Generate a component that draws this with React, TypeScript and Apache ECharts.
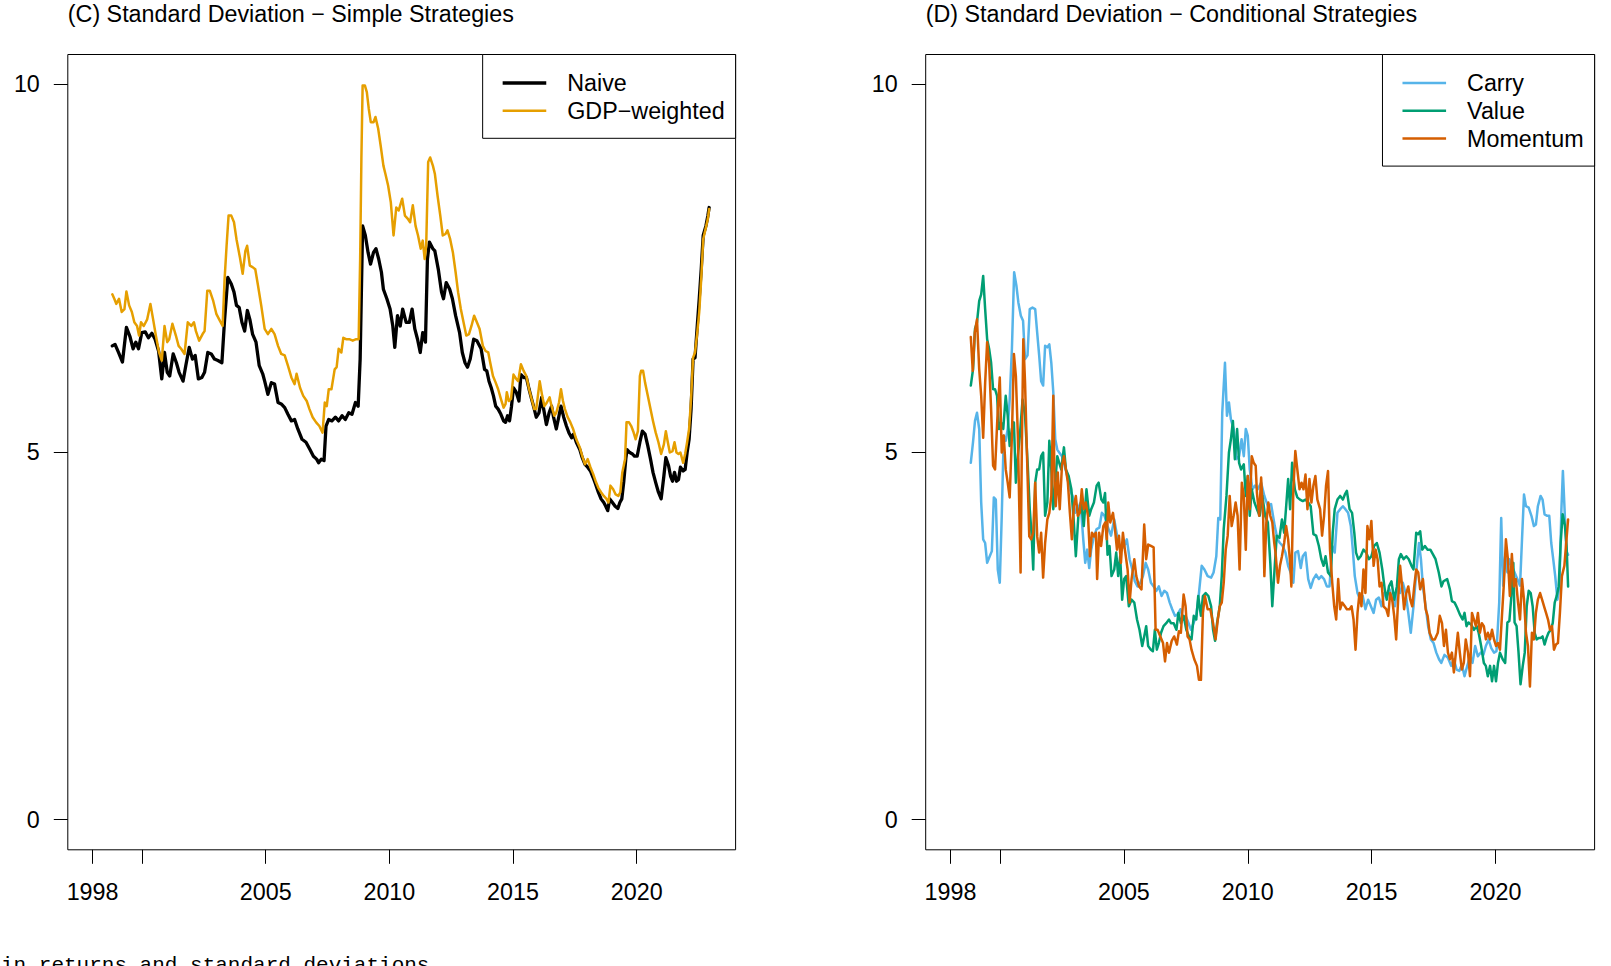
import React, { useEffect, useRef } from "react";
import * as echarts from "echarts";

const FONT = "'Liberation Sans', Arial, Helvetica, sans-serif";
const FS = 23.3;

// ---- axes ----
const xTickValues = [1998, 2000, 2005, 2010, 2015, 2020];
const xLabelValues = [1998, 2005, 2010, 2015, 2020];
const yTickValues = [0, 5, 10];

const titles = [
  "(C) Standard Deviation \u2212 Simple Strategies",
  "(D) Standard Deviation \u2212 Conditional Strategies",
];
const leftNames = ["Naive", "GDP\u2212weighted"];
const rightNames = ["Carry", "Value", "Momentum"];
const caption = "in returns and standard deviations";

// ---- series: [year, standard deviation] ----
const naive: [number, number][] = [
  [1998.80, 6.44], [1998.91, 6.46], [1999.05, 6.35], [1999.21, 6.22], [1999.37, 6.69], [1999.51, 6.57],
  [1999.64, 6.40], [1999.75, 6.49], [1999.86, 6.40], [1999.99, 6.62], [2000.13, 6.63], [2000.26, 6.55],
  [2000.40, 6.61], [2000.53, 6.53], [2000.67, 6.37], [2000.80, 5.99], [2000.91, 6.35], [2001.02, 6.08],
  [2001.12, 6.03], [2001.26, 6.33], [2001.39, 6.21], [2001.50, 6.08], [2001.66, 5.96], [2001.77, 6.17],
  [2001.91, 6.42], [2002.04, 6.26], [2002.15, 6.31], [2002.28, 5.99], [2002.42, 6.01], [2002.53, 6.08],
  [2002.66, 6.35], [2002.80, 6.33], [2002.93, 6.26], [2003.07, 6.24], [2003.23, 6.21], [2003.34, 6.80],
  [2003.47, 7.37], [2003.61, 7.28], [2003.72, 7.17], [2003.82, 6.99], [2003.93, 6.96], [2004.04, 6.76],
  [2004.15, 6.64], [2004.26, 6.92], [2004.36, 6.80], [2004.47, 6.60], [2004.61, 6.49], [2004.74, 6.17],
  [2004.88, 6.06], [2004.96, 5.96], [2005.09, 5.78], [2005.23, 5.94], [2005.36, 5.92], [2005.50, 5.67],
  [2005.63, 5.65], [2005.77, 5.60], [2005.90, 5.51], [2006.04, 5.42], [2006.17, 5.44], [2006.30, 5.31],
  [2006.47, 5.17], [2006.63, 5.13], [2006.79, 5.03], [2006.93, 4.94], [2007.06, 4.90], [2007.14, 4.85],
  [2007.25, 4.90], [2007.36, 4.88], [2007.44, 5.35], [2007.55, 5.44], [2007.68, 5.42], [2007.82, 5.47],
  [2007.95, 5.42], [2008.09, 5.49], [2008.22, 5.44], [2008.36, 5.53], [2008.49, 5.51], [2008.63, 5.67],
  [2008.74, 5.62], [2008.82, 6.26], [2008.87, 7.17], [2008.92, 8.07], [2009.03, 7.94], [2009.14, 7.71],
  [2009.24, 7.55], [2009.36, 7.71], [2009.46, 7.76], [2009.57, 7.62], [2009.68, 7.44], [2009.76, 7.21],
  [2009.90, 7.08], [2010.03, 6.94], [2010.14, 6.71], [2010.22, 6.42], [2010.33, 6.85], [2010.44, 6.71],
  [2010.54, 6.94], [2010.68, 6.76], [2010.81, 6.76], [2010.92, 6.94], [2011.03, 6.67], [2011.14, 6.53],
  [2011.25, 6.35], [2011.35, 6.62], [2011.46, 6.49], [2011.54, 7.62], [2011.62, 7.85], [2011.76, 7.76],
  [2011.84, 7.73], [2011.98, 7.48], [2012.11, 7.17], [2012.19, 7.08], [2012.30, 7.30], [2012.44, 7.21],
  [2012.55, 7.08], [2012.68, 6.85], [2012.84, 6.62], [2012.95, 6.35], [2013.06, 6.21], [2013.16, 6.15],
  [2013.27, 6.26], [2013.41, 6.53], [2013.54, 6.51], [2013.71, 6.40], [2013.85, 6.12], [2013.94, 6.10],
  [2014.03, 5.96], [2014.12, 5.87], [2014.21, 5.76], [2014.30, 5.62], [2014.40, 5.58], [2014.51, 5.51],
  [2014.62, 5.42], [2014.70, 5.40], [2014.78, 5.49], [2014.86, 5.42], [2014.94, 5.62], [2015.02, 5.87],
  [2015.13, 5.81], [2015.24, 5.69], [2015.32, 6.05], [2015.43, 6.01], [2015.54, 6.01], [2015.65, 5.85],
  [2015.75, 5.72], [2015.86, 5.58], [2015.94, 5.47], [2016.05, 5.53], [2016.16, 5.74], [2016.24, 5.58],
  [2016.35, 5.37], [2016.46, 5.53], [2016.56, 5.62], [2016.64, 5.47], [2016.75, 5.31], [2016.86, 5.49],
  [2016.94, 5.62], [2017.05, 5.47], [2017.16, 5.35], [2017.26, 5.26], [2017.37, 5.19], [2017.45, 5.24],
  [2017.56, 5.13], [2017.70, 5.03], [2017.80, 4.92], [2017.91, 4.83], [2018.02, 4.79], [2018.13, 4.74],
  [2018.24, 4.65], [2018.34, 4.56], [2018.45, 4.45], [2018.56, 4.36], [2018.67, 4.31], [2018.75, 4.26],
  [2018.83, 4.20], [2018.91, 4.36], [2019.02, 4.31], [2019.13, 4.26], [2019.24, 4.23], [2019.32, 4.31],
  [2019.40, 4.36], [2019.48, 4.60], [2019.56, 4.90], [2019.61, 5.03], [2019.72, 4.99], [2019.83, 4.97],
  [2019.91, 4.94], [2020.02, 4.94], [2020.13, 5.13], [2020.23, 5.28], [2020.34, 5.24], [2020.45, 5.08],
  [2020.56, 4.90], [2020.66, 4.72], [2020.77, 4.58], [2020.88, 4.45], [2020.99, 4.36], [2021.10, 4.67],
  [2021.18, 4.92], [2021.29, 4.81], [2021.37, 4.67], [2021.45, 4.60], [2021.53, 4.72], [2021.61, 4.60],
  [2021.69, 4.62], [2021.77, 4.79], [2021.88, 4.74], [2021.96, 4.76], [2022.04, 4.99], [2022.12, 5.17],
  [2022.20, 5.58], [2022.28, 6.26], [2022.36, 6.28], [2022.45, 6.71], [2022.53, 7.08], [2022.61, 7.48],
  [2022.69, 7.94], [2022.80, 8.07], [2022.88, 8.21], [2022.93, 8.32],
];

const gdpWeighted: [number, number][] = [
  [1998.80, 7.14], [1998.88, 7.08], [1998.96, 7.01], [1999.07, 7.08], [1999.18, 6.90], [1999.29, 6.94],
  [1999.37, 7.18], [1999.48, 6.99], [1999.59, 6.90], [1999.69, 6.76], [1999.80, 6.71], [1999.88, 6.58],
  [1999.96, 6.76], [2000.07, 6.71], [2000.21, 6.80], [2000.34, 7.01], [2000.45, 6.80], [2000.56, 6.58],
  [2000.69, 6.35], [2000.80, 6.24], [2000.91, 6.71], [2001.02, 6.49], [2001.10, 6.53], [2001.23, 6.74],
  [2001.37, 6.58], [2001.48, 6.44], [2001.58, 6.40], [2001.72, 6.33], [2001.85, 6.76], [2001.99, 6.71],
  [2002.10, 6.76], [2002.18, 6.64], [2002.31, 6.51], [2002.45, 6.60], [2002.53, 6.64], [2002.64, 7.19],
  [2002.74, 7.19], [2002.88, 7.05], [2003.01, 6.87], [2003.12, 6.80], [2003.26, 6.71], [2003.34, 7.35],
  [2003.42, 7.80], [2003.50, 8.21], [2003.61, 8.21], [2003.72, 8.12], [2003.82, 7.89], [2003.96, 7.64],
  [2004.07, 7.42], [2004.18, 7.73], [2004.25, 7.80], [2004.36, 7.53], [2004.47, 7.51], [2004.58, 7.48],
  [2004.69, 7.26], [2004.82, 6.99], [2004.96, 6.67], [2005.09, 6.60], [2005.23, 6.67], [2005.36, 6.60],
  [2005.50, 6.44], [2005.63, 6.33], [2005.77, 6.31], [2005.90, 6.17], [2006.04, 6.01], [2006.17, 5.92],
  [2006.25, 6.06], [2006.39, 5.87], [2006.52, 5.76], [2006.66, 5.69], [2006.77, 5.58], [2006.90, 5.47],
  [2007.04, 5.40], [2007.17, 5.35], [2007.30, 5.26], [2007.39, 5.67], [2007.47, 5.62], [2007.55, 5.85],
  [2007.66, 5.85], [2007.79, 6.12], [2007.87, 6.15], [2007.95, 6.40], [2008.06, 6.35], [2008.14, 6.55],
  [2008.25, 6.53], [2008.38, 6.53], [2008.52, 6.51], [2008.66, 6.53], [2008.76, 6.53], [2008.82, 7.62],
  [2008.87, 8.98], [2008.92, 9.98], [2009.01, 9.98], [2009.09, 9.89], [2009.17, 9.66], [2009.25, 9.48],
  [2009.36, 9.48], [2009.44, 9.55], [2009.55, 9.39], [2009.65, 9.16], [2009.76, 8.89], [2009.84, 8.78],
  [2009.95, 8.62], [2010.06, 8.39], [2010.17, 7.94], [2010.28, 8.32], [2010.38, 8.28], [2010.52, 8.44],
  [2010.63, 8.21], [2010.74, 8.17], [2010.84, 8.12], [2010.95, 8.35], [2011.06, 8.07], [2011.16, 7.94],
  [2011.27, 7.76], [2011.35, 7.87], [2011.43, 7.62], [2011.49, 7.80], [2011.57, 8.94], [2011.65, 9.00],
  [2011.76, 8.89], [2011.84, 8.78], [2011.95, 8.48], [2012.06, 8.21], [2012.16, 7.94], [2012.27, 7.96],
  [2012.35, 8.01], [2012.46, 7.89], [2012.57, 7.71], [2012.68, 7.44], [2012.78, 7.17], [2012.89, 6.94],
  [2013.00, 6.76], [2013.11, 6.58], [2013.22, 6.60], [2013.32, 6.71], [2013.43, 6.85], [2013.54, 6.76],
  [2013.65, 6.67], [2013.78, 6.44], [2013.89, 6.37], [2014.00, 6.35], [2014.08, 6.21], [2014.19, 6.03],
  [2014.30, 5.94], [2014.40, 5.85], [2014.51, 5.72], [2014.62, 5.60], [2014.70, 5.65], [2014.75, 5.81],
  [2014.83, 5.69], [2014.92, 5.72], [2015.02, 6.05], [2015.13, 5.99], [2015.21, 5.96], [2015.32, 6.19],
  [2015.43, 6.10], [2015.54, 6.03], [2015.65, 5.85], [2015.75, 5.72], [2015.86, 5.58], [2015.94, 5.58],
  [2016.08, 5.96], [2016.18, 5.76], [2016.27, 5.62], [2016.37, 5.67], [2016.48, 5.74], [2016.56, 5.62],
  [2016.67, 5.49], [2016.75, 5.53], [2016.86, 5.67], [2016.94, 5.85], [2017.02, 5.69], [2017.10, 5.58],
  [2017.21, 5.47], [2017.32, 5.40], [2017.43, 5.31], [2017.56, 5.17], [2017.70, 5.06], [2017.80, 4.94],
  [2017.91, 4.83], [2018.02, 4.90], [2018.13, 4.79], [2018.24, 4.70], [2018.34, 4.60], [2018.45, 4.51],
  [2018.56, 4.45], [2018.67, 4.40], [2018.78, 4.36], [2018.86, 4.31], [2018.94, 4.54], [2019.05, 4.49],
  [2019.15, 4.42], [2019.26, 4.40], [2019.34, 4.45], [2019.42, 4.72], [2019.53, 4.90], [2019.59, 5.40],
  [2019.69, 5.40], [2019.78, 5.35], [2019.86, 5.28], [2019.96, 5.17], [2020.05, 5.28], [2020.13, 6.03],
  [2020.18, 6.10], [2020.26, 6.10], [2020.34, 5.94], [2020.45, 5.76], [2020.56, 5.58], [2020.66, 5.42],
  [2020.77, 5.26], [2020.88, 5.13], [2020.99, 4.97], [2021.10, 5.10], [2021.18, 5.28], [2021.26, 5.13],
  [2021.34, 4.99], [2021.45, 5.01], [2021.53, 5.13], [2021.61, 4.99], [2021.69, 4.97], [2021.77, 4.99],
  [2021.88, 4.85], [2021.96, 4.97], [2022.04, 5.13], [2022.12, 5.31], [2022.20, 5.72], [2022.28, 6.28],
  [2022.36, 6.35], [2022.45, 6.62], [2022.53, 6.90], [2022.61, 7.35], [2022.69, 7.89], [2022.80, 8.05],
  [2022.88, 8.17], [2022.93, 8.30],
];

const carry: [number, number][] = [
  [1998.82, 4.85], [1998.91, 5.13], [1998.99, 5.42], [1999.07, 5.53], [1999.16, 5.31], [1999.24, 4.31],
  [1999.32, 3.81], [1999.40, 3.76], [1999.48, 3.49], [1999.56, 3.56], [1999.67, 3.65], [1999.75, 4.38],
  [1999.83, 4.35], [1999.91, 3.40], [1999.99, 3.22], [2000.07, 4.13], [2000.15, 5.22], [2000.23, 5.15],
  [2000.31, 5.31], [2000.39, 5.71], [2000.48, 6.40], [2000.57, 7.44], [2000.66, 7.26], [2000.74, 7.03],
  [2000.84, 6.85], [2000.93, 6.78], [2001.01, 6.26], [2001.11, 6.31], [2001.20, 6.94], [2001.31, 6.96],
  [2001.42, 6.94], [2001.50, 6.62], [2001.58, 6.31], [2001.66, 5.96], [2001.74, 5.90], [2001.82, 6.44],
  [2001.91, 6.42], [2001.99, 6.46], [2002.07, 6.21], [2002.15, 5.81], [2002.23, 5.17], [2002.31, 5.03],
  [2002.39, 4.99], [2002.50, 4.94], [2002.61, 4.81], [2002.71, 4.67], [2002.82, 4.49], [2002.93, 4.40],
  [2003.04, 4.17], [2003.14, 4.22], [2003.25, 4.31], [2003.36, 3.81], [2003.44, 3.49], [2003.52, 3.67],
  [2003.60, 3.42], [2003.68, 3.67], [2003.79, 3.85], [2003.90, 3.95], [2004.01, 3.97], [2004.11, 4.17],
  [2004.22, 4.13], [2004.34, 3.99], [2004.48, 3.86], [2004.61, 4.08], [2004.75, 3.81], [2004.88, 3.67],
  [2005.01, 3.72], [2005.12, 3.81], [2005.23, 3.54], [2005.34, 3.40], [2005.44, 3.24], [2005.55, 3.17],
  [2005.66, 3.22], [2005.77, 3.31], [2005.88, 3.49], [2005.98, 3.40], [2006.09, 3.22], [2006.20, 3.17],
  [2006.31, 3.11], [2006.41, 3.17], [2006.52, 3.04], [2006.63, 3.11], [2006.74, 3.08], [2006.85, 2.95],
  [2006.95, 2.86], [2007.06, 2.77], [2007.17, 2.79], [2007.28, 2.86], [2007.38, 2.72], [2007.49, 2.77],
  [2007.60, 2.68], [2007.71, 2.58], [2007.82, 2.68], [2007.92, 2.77], [2008.03, 3.08], [2008.14, 3.45],
  [2008.25, 3.40], [2008.38, 3.31], [2008.52, 3.29], [2008.62, 3.36], [2008.73, 3.58], [2008.81, 4.10],
  [2008.89, 4.08], [2008.97, 5.53], [2009.08, 6.21], [2009.16, 5.49], [2009.24, 5.67], [2009.32, 5.44],
  [2009.43, 5.31], [2009.54, 4.90], [2009.65, 4.94], [2009.75, 5.17], [2009.84, 4.94], [2009.92, 5.31],
  [2010.00, 5.22], [2010.08, 4.76], [2010.19, 4.49], [2010.29, 4.54], [2010.40, 4.49], [2010.54, 4.58],
  [2010.67, 4.40], [2010.81, 4.26], [2010.94, 4.29], [2011.09, 3.99], [2011.20, 3.81], [2011.30, 3.76],
  [2011.41, 3.72], [2011.52, 3.63], [2011.63, 3.45], [2011.73, 3.36], [2011.84, 3.22], [2011.92, 3.63],
  [2012.03, 3.65], [2012.14, 3.42], [2012.22, 3.58], [2012.33, 3.63], [2012.44, 3.27], [2012.54, 3.15],
  [2012.65, 3.27], [2012.76, 3.33], [2012.87, 3.27], [2012.97, 3.31], [2013.08, 3.27], [2013.19, 3.17],
  [2013.30, 3.17], [2013.41, 3.72], [2013.51, 3.63], [2013.62, 4.17], [2013.73, 4.22], [2013.84, 4.26],
  [2013.94, 4.22], [2014.05, 4.17], [2014.16, 3.99], [2014.24, 3.67], [2014.32, 3.31], [2014.43, 3.08],
  [2014.54, 2.99], [2014.64, 3.04], [2014.75, 2.86], [2014.86, 2.99], [2014.97, 2.90], [2015.08, 2.81],
  [2015.18, 2.99], [2015.29, 3.02], [2015.40, 2.90], [2015.51, 3.08], [2015.61, 3.04], [2015.72, 3.13],
  [2015.83, 2.99], [2015.94, 2.90], [2016.04, 3.17], [2016.15, 3.08], [2016.26, 3.22], [2016.37, 3.08],
  [2016.48, 2.81], [2016.58, 2.54], [2016.69, 2.90], [2016.80, 3.36], [2016.91, 3.76], [2016.99, 3.54],
  [2017.07, 3.17], [2017.18, 2.90], [2017.28, 2.63], [2017.39, 2.45], [2017.50, 2.40], [2017.61, 2.27],
  [2017.72, 2.18], [2017.81, 2.13], [2017.94, 2.24], [2018.08, 2.20], [2018.21, 2.09], [2018.32, 2.18],
  [2018.43, 2.04], [2018.54, 2.02], [2018.64, 2.11], [2018.75, 1.95], [2018.86, 2.09], [2018.97, 2.22],
  [2019.07, 2.13], [2019.18, 2.36], [2019.29, 2.22], [2019.40, 2.27], [2019.51, 2.24], [2019.61, 2.36],
  [2019.72, 2.45], [2019.83, 2.33], [2019.94, 2.27], [2020.04, 2.29], [2020.15, 2.95], [2020.23, 4.10],
  [2020.31, 3.18], [2020.39, 3.58], [2020.48, 3.36], [2020.56, 3.54], [2020.66, 3.45], [2020.77, 3.36],
  [2020.88, 3.27], [2020.99, 3.18], [2021.07, 3.81], [2021.15, 4.42], [2021.23, 4.26], [2021.34, 4.24],
  [2021.45, 4.13], [2021.55, 3.99], [2021.63, 4.01], [2021.71, 4.26], [2021.82, 4.40], [2021.90, 4.35],
  [2021.98, 4.15], [2022.09, 4.13], [2022.17, 4.13], [2022.25, 3.76], [2022.33, 3.54], [2022.41, 3.31],
  [2022.50, 2.99], [2022.58, 3.17], [2022.66, 4.22], [2022.72, 4.74], [2022.79, 4.20], [2022.86, 3.65],
  [2022.93, 3.60],
];

const value: [number, number][] = [
  [1998.82, 5.90], [1998.91, 6.12], [1998.99, 6.67], [1999.07, 6.76], [1999.16, 7.05], [1999.24, 7.14],
  [1999.32, 7.39], [1999.40, 6.94], [1999.48, 6.53], [1999.56, 6.40], [1999.64, 6.21], [1999.72, 5.85],
  [1999.80, 5.85], [1999.88, 5.76], [1999.96, 5.31], [2000.04, 5.40], [2000.13, 5.31], [2000.23, 5.76],
  [2000.31, 5.49], [2000.39, 5.08], [2000.48, 5.31], [2000.56, 5.40], [2000.64, 4.58], [2000.72, 4.94],
  [2000.80, 5.22], [2000.91, 5.71], [2001.01, 5.49], [2001.12, 4.81], [2001.20, 4.22], [2001.28, 3.85],
  [2001.34, 3.40], [2001.42, 4.58], [2001.50, 4.76], [2001.58, 4.76], [2001.66, 4.94], [2001.74, 4.99],
  [2001.82, 4.13], [2001.91, 4.31], [2001.99, 5.15], [2002.07, 4.76], [2002.15, 4.22], [2002.23, 4.58],
  [2002.31, 4.94], [2002.39, 4.85], [2002.47, 4.76], [2002.58, 5.06], [2002.66, 4.76], [2002.77, 4.67],
  [2002.88, 4.49], [2002.98, 4.04], [2003.06, 3.58], [2003.17, 4.17], [2003.28, 4.31], [2003.38, 3.99],
  [2003.49, 4.49], [2003.60, 4.13], [2003.68, 4.22], [2003.79, 4.31], [2003.90, 4.54], [2003.98, 4.58],
  [2004.09, 4.35], [2004.17, 4.31], [2004.24, 4.44], [2004.34, 3.60], [2004.42, 3.72], [2004.50, 3.31],
  [2004.61, 3.40], [2004.69, 3.63], [2004.77, 3.31], [2004.85, 3.58], [2004.93, 2.99], [2005.01, 3.27],
  [2005.09, 3.31], [2005.20, 2.90], [2005.31, 2.99], [2005.42, 2.95], [2005.53, 2.72], [2005.63, 2.58],
  [2005.74, 2.36], [2005.82, 2.49], [2005.90, 2.63], [2005.98, 2.36], [2006.09, 2.31], [2006.17, 2.29],
  [2006.25, 2.58], [2006.33, 2.31], [2006.41, 2.40], [2006.50, 2.54], [2006.60, 2.63], [2006.71, 2.67],
  [2006.82, 2.72], [2006.90, 2.67], [2007.01, 2.67], [2007.12, 2.58], [2007.20, 2.81], [2007.30, 2.67],
  [2007.41, 2.77], [2007.52, 2.58], [2007.63, 2.49], [2007.73, 2.45], [2007.82, 2.77], [2007.92, 2.72],
  [2008.00, 3.04], [2008.11, 2.77], [2008.19, 3.04], [2008.30, 3.08], [2008.41, 3.04], [2008.52, 2.90],
  [2008.60, 2.58], [2008.68, 2.43], [2008.76, 2.67], [2008.87, 2.90], [2008.95, 3.31], [2009.03, 3.95],
  [2009.14, 4.40], [2009.24, 4.99], [2009.32, 5.17], [2009.40, 5.42], [2009.48, 4.90], [2009.57, 5.31],
  [2009.65, 4.85], [2009.73, 4.76], [2009.84, 4.83], [2009.92, 4.40], [2010.00, 4.67], [2010.08, 4.13],
  [2010.16, 4.49], [2010.27, 4.31], [2010.37, 4.22], [2010.48, 4.13], [2010.59, 4.40], [2010.70, 4.13],
  [2010.81, 4.04], [2010.91, 3.49], [2010.99, 2.90], [2011.09, 3.45], [2011.17, 3.86], [2011.28, 3.83],
  [2011.38, 4.08], [2011.47, 3.90], [2011.55, 4.26], [2011.63, 4.63], [2011.71, 4.22], [2011.79, 4.85],
  [2011.90, 4.49], [2012.00, 4.38], [2012.11, 4.35], [2012.22, 4.33], [2012.33, 4.35], [2012.44, 4.31],
  [2012.54, 4.26], [2012.65, 3.88], [2012.76, 3.86], [2012.87, 3.72], [2012.97, 3.54], [2013.06, 3.45],
  [2013.14, 3.58], [2013.24, 3.36], [2013.35, 3.31], [2013.43, 3.90], [2013.51, 4.22], [2013.62, 4.35],
  [2013.73, 4.40], [2013.84, 4.35], [2013.92, 4.42], [2014.00, 4.47], [2014.11, 4.22], [2014.21, 4.17],
  [2014.30, 3.90], [2014.37, 3.63], [2014.46, 3.54], [2014.56, 3.58], [2014.67, 3.67], [2014.78, 3.63],
  [2014.89, 3.54], [2014.99, 3.58], [2015.10, 3.72], [2015.21, 3.76], [2015.32, 3.63], [2015.43, 3.40],
  [2015.53, 3.13], [2015.61, 2.99], [2015.70, 3.17], [2015.80, 3.24], [2015.91, 2.99], [2016.02, 3.17],
  [2016.10, 3.54], [2016.18, 3.61], [2016.29, 3.54], [2016.40, 3.58], [2016.50, 3.54], [2016.61, 3.45],
  [2016.69, 3.40], [2016.80, 3.90], [2016.88, 3.88], [2016.96, 3.92], [2017.04, 3.67], [2017.15, 3.72],
  [2017.26, 3.67], [2017.37, 3.67], [2017.47, 3.61], [2017.58, 3.54], [2017.71, 3.36], [2017.82, 3.17],
  [2017.90, 3.24], [2018.05, 3.27], [2018.16, 3.13], [2018.24, 2.97], [2018.35, 2.95], [2018.45, 2.88],
  [2018.56, 2.79], [2018.67, 2.72], [2018.75, 2.81], [2018.83, 2.63], [2018.91, 2.68], [2019.02, 2.65],
  [2019.13, 2.58], [2019.24, 2.63], [2019.32, 2.54], [2019.42, 2.36], [2019.53, 2.13], [2019.61, 2.09],
  [2019.69, 1.95], [2019.78, 2.09], [2019.86, 1.88], [2019.94, 2.09], [2020.02, 1.88], [2020.10, 2.13],
  [2020.18, 2.27], [2020.29, 2.18], [2020.39, 2.13], [2020.48, 2.68], [2020.56, 2.70], [2020.64, 3.04],
  [2020.72, 3.49], [2020.77, 2.68], [2020.85, 2.63], [2020.93, 2.27], [2021.01, 1.84], [2021.10, 2.09],
  [2021.18, 2.27], [2021.26, 2.90], [2021.34, 3.11], [2021.42, 3.08], [2021.50, 2.90], [2021.58, 2.54],
  [2021.66, 2.45], [2021.74, 2.47], [2021.82, 2.47], [2021.90, 2.49], [2021.98, 2.38], [2022.06, 2.47],
  [2022.14, 2.54], [2022.23, 2.58], [2022.31, 2.67], [2022.39, 2.95], [2022.47, 3.04], [2022.55, 3.17],
  [2022.63, 3.76], [2022.71, 4.15], [2022.80, 4.00], [2022.87, 3.72], [2022.93, 3.17],
];

const momentum: [number, number][] = [
  [1998.82, 6.56], [1998.90, 6.10], [1998.98, 6.62], [1999.07, 6.80], [1999.16, 6.12], [1999.24, 5.76],
  [1999.32, 5.19], [1999.40, 5.94], [1999.48, 6.49], [1999.56, 6.21], [1999.64, 5.58], [1999.72, 4.81],
  [1999.80, 4.76], [1999.91, 5.58], [1999.99, 6.01], [2000.07, 4.99], [2000.15, 5.22], [2000.23, 4.76],
  [2000.31, 4.58], [2000.39, 4.38], [2000.48, 5.22], [2000.56, 6.33], [2000.64, 6.03], [2000.72, 5.22],
  [2000.83, 3.36], [2000.88, 5.03], [2000.94, 6.53], [2001.01, 5.94], [2001.09, 4.94], [2001.18, 3.85],
  [2001.26, 3.81], [2001.34, 3.90], [2001.42, 4.58], [2001.50, 3.85], [2001.58, 3.63], [2001.66, 3.90],
  [2001.74, 3.29], [2001.82, 3.76], [2001.91, 4.08], [2001.99, 4.17], [2002.07, 4.40], [2002.15, 5.76],
  [2002.20, 4.58], [2002.25, 4.26], [2002.33, 4.72], [2002.41, 4.22], [2002.50, 4.81], [2002.58, 4.94],
  [2002.66, 4.76], [2002.74, 4.58], [2002.82, 4.17], [2002.90, 3.81], [2002.98, 4.26], [2003.06, 4.40],
  [2003.14, 4.13], [2003.22, 4.17], [2003.30, 4.49], [2003.38, 4.22], [2003.46, 4.31], [2003.55, 4.13],
  [2003.63, 3.58], [2003.71, 3.90], [2003.79, 3.85], [2003.87, 3.90], [2003.92, 3.27], [2004.00, 3.90],
  [2004.08, 3.72], [2004.17, 3.99], [2004.25, 4.04], [2004.31, 3.81], [2004.37, 4.31], [2004.45, 4.04],
  [2004.56, 4.17], [2004.64, 3.95], [2004.72, 3.67], [2004.80, 3.86], [2004.88, 3.49], [2004.96, 3.90],
  [2005.04, 3.67], [2005.15, 3.40], [2005.23, 2.95], [2005.31, 3.27], [2005.42, 3.54], [2005.50, 3.31],
  [2005.61, 3.17], [2005.71, 3.13], [2005.82, 4.01], [2005.90, 3.54], [2005.98, 3.74], [2006.09, 3.72],
  [2006.20, 3.70], [2006.28, 2.58], [2006.36, 2.58], [2006.47, 2.49], [2006.58, 2.40], [2006.66, 2.15],
  [2006.74, 2.40], [2006.82, 2.27], [2006.93, 2.43], [2007.03, 2.49], [2007.14, 2.38], [2007.22, 2.56],
  [2007.30, 2.54], [2007.41, 3.06], [2007.49, 2.90], [2007.57, 2.49], [2007.65, 2.45], [2007.73, 2.31],
  [2007.84, 2.18], [2007.95, 2.09], [2008.03, 1.90], [2008.11, 1.90], [2008.19, 2.81], [2008.27, 3.04],
  [2008.38, 2.86], [2008.49, 2.86], [2008.60, 2.67], [2008.70, 2.45], [2008.79, 2.72], [2008.87, 2.90],
  [2008.95, 2.95], [2009.03, 3.22], [2009.11, 3.67], [2009.19, 3.86], [2009.27, 4.40], [2009.35, 3.99],
  [2009.43, 4.13], [2009.51, 4.31], [2009.59, 4.13], [2009.67, 3.40], [2009.76, 4.58], [2009.84, 4.40],
  [2009.92, 3.67], [2010.00, 4.67], [2010.08, 4.22], [2010.16, 4.94], [2010.24, 4.85], [2010.32, 4.81],
  [2010.37, 4.44], [2010.46, 4.13], [2010.54, 4.65], [2010.62, 4.13], [2010.67, 3.31], [2010.75, 4.04],
  [2010.83, 4.31], [2010.91, 4.13], [2010.99, 4.04], [2011.07, 3.76], [2011.12, 3.63], [2011.22, 3.22],
  [2011.30, 3.45], [2011.38, 3.58], [2011.47, 3.76], [2011.55, 3.99], [2011.63, 3.81], [2011.71, 3.49],
  [2011.76, 3.17], [2011.84, 4.49], [2011.92, 5.01], [2012.00, 4.76], [2012.09, 4.49], [2012.17, 4.58],
  [2012.25, 4.49], [2012.33, 4.69], [2012.41, 4.22], [2012.49, 4.63], [2012.57, 4.31], [2012.65, 4.54],
  [2012.73, 4.67], [2012.81, 4.35], [2012.92, 4.22], [2013.00, 3.86], [2013.08, 4.13], [2013.16, 4.54],
  [2013.24, 4.74], [2013.32, 3.67], [2013.41, 3.22], [2013.49, 2.90], [2013.57, 2.72], [2013.65, 3.27],
  [2013.73, 2.86], [2013.81, 2.95], [2013.92, 2.90], [2014.00, 2.86], [2014.11, 2.86], [2014.19, 2.90],
  [2014.27, 2.72], [2014.35, 2.31], [2014.43, 2.81], [2014.51, 3.08], [2014.59, 2.90], [2014.67, 3.40],
  [2014.75, 3.08], [2014.83, 3.99], [2014.91, 3.81], [2014.99, 4.06], [2015.08, 3.45], [2015.16, 3.67],
  [2015.24, 3.54], [2015.32, 3.17], [2015.40, 3.22], [2015.48, 2.90], [2015.59, 2.86], [2015.67, 2.77],
  [2015.75, 3.08], [2015.83, 2.99], [2015.91, 2.77], [2015.99, 2.45], [2016.07, 2.99], [2016.15, 3.45],
  [2016.23, 3.17], [2016.31, 2.86], [2016.40, 3.08], [2016.48, 3.17], [2016.56, 2.99], [2016.64, 2.90],
  [2016.72, 3.17], [2016.80, 3.40], [2016.88, 3.36], [2016.96, 3.13], [2017.07, 3.27], [2017.18, 2.86],
  [2017.26, 2.77], [2017.34, 2.54], [2017.45, 2.45], [2017.55, 2.45], [2017.67, 2.54], [2017.75, 2.77],
  [2017.84, 2.67], [2017.92, 2.36], [2018.00, 2.58], [2018.08, 2.27], [2018.16, 2.18], [2018.24, 2.27],
  [2018.32, 2.00], [2018.40, 2.27], [2018.48, 2.54], [2018.56, 2.27], [2018.64, 2.04], [2018.72, 2.13],
  [2018.80, 2.45], [2018.89, 2.27], [2018.97, 1.95], [2019.05, 2.81], [2019.13, 2.72], [2019.21, 2.63],
  [2019.29, 2.81], [2019.37, 2.54], [2019.45, 2.67], [2019.53, 2.63], [2019.61, 2.45], [2019.69, 2.54],
  [2019.78, 2.45], [2019.86, 2.58], [2019.94, 2.45], [2020.02, 2.36], [2020.10, 2.40], [2020.18, 2.31],
  [2020.26, 2.77], [2020.34, 3.22], [2020.42, 3.81], [2020.50, 3.54], [2020.58, 3.04], [2020.66, 3.61],
  [2020.74, 3.17], [2020.82, 3.27], [2020.91, 2.95], [2020.99, 2.72], [2021.07, 3.27], [2021.15, 2.99],
  [2021.23, 2.54], [2021.31, 2.36], [2021.39, 1.81], [2021.47, 2.54], [2021.55, 2.45], [2021.63, 2.81],
  [2021.71, 2.99], [2021.80, 3.08], [2021.88, 2.99], [2021.96, 2.90], [2022.04, 2.81], [2022.12, 2.72],
  [2022.20, 2.58], [2022.28, 2.63], [2022.36, 2.31], [2022.44, 2.38], [2022.52, 2.40], [2022.60, 2.81],
  [2022.68, 3.31], [2022.78, 3.45], [2022.93, 4.08],
];

const COLORS = {
  naive: "#000000",
  gdp: "#E69F00",
  carry: "#56B4E9",
  value: "#009E73",
  momentum: "#D55E00",
};

const W = 1611;
const H = 966;
const GRID_TOP = 54.5;
const GRID_H = 795.3;
const GRIDS = [
  { left: 67.8, width: 667.8 },
  { left: 925.7, width: 668.9 },
];
const WIDTH_NAIVE = 3.3;
const WIDTH_THIN = 2.5;

function barIcon(thickness: number) {
  return `path://M0,0h43.6v${thickness}h-43.6z`;
}

function xAxisFor(gridIndex: number) {
  return {
    type: "value",
    gridIndex,
    min: 1997,
    max: 2024,
    axisLine: { show: false, onZero: false },
    axisTick: {
      show: true,
      inside: false,
      length: 14,
      customValues: xTickValues,
      lineStyle: { color: "#000", width: 1 },
    },
    axisLabel: {
      customValues: xLabelValues,
      margin: 31,
      fontSize: FS,
      fontFamily: FONT,
      color: "#000",
      formatter: (v: number) => String(v),
    },
    splitLine: { show: false },
  };
}

function yAxisFor(gridIndex: number) {
  return {
    type: "value",
    gridIndex,
    min: -0.41,
    max: 10.4,
    axisLine: { show: false, onZero: false },
    axisTick: {
      show: true,
      inside: false,
      length: 14,
      customValues: yTickValues,
      lineStyle: { color: "#000", width: 1 },
    },
    axisLabel: {
      customValues: yTickValues,
      margin: 28,
      fontSize: FS,
      fontFamily: FONT,
      color: "#000",
    },
    splitLine: { show: false },
  };
}

function legendFor(items: { name: string; icon: string }[], right: number) {
  return {
    data: items,
    orient: "vertical",
    right,
    top: GRID_TOP,
    padding: [17, 11, 16, 20],
    itemWidth: 43.6,
    itemHeight: 14,
    itemGap: 4.8,
    symbolKeepAspect: true,
    borderColor: "#000",
    borderWidth: 1,
    backgroundColor: "#fff",
    selectedMode: false,
    textStyle: {
      fontSize: FS,
      lineHeight: 23,
      fontFamily: FONT,
      color: "#000",
      padding: [0, 0, 0, 16],
    },
  };
}

function lineSeries(name: string, data: [number, number][], color: string, width: number, idx: number) {
  return {
    name,
    type: "line",
    xAxisIndex: idx,
    yAxisIndex: idx,
    data,
    symbol: "none",
    showSymbol: false,
    smooth: false,
    lineStyle: { color, width, join: "round", cap: "round" },
    itemStyle: { color },
    emphasis: { disabled: true },
    silent: true,
  };
}

export default function App() {
  const ref = useRef<HTMLDivElement>(null);

  useEffect(() => {
    if (!ref.current) return;
    document.body.style.margin = "0";
    const chart = echarts.init(ref.current, null, { renderer: "svg", width: W, height: H });
    const titleStyle = { fontSize: FS, fontWeight: "normal", fontFamily: FONT, color: "#000" };
    const option: any = {
      animation: false,
      backgroundColor: "#ffffff",
      title: [
        { text: titles[0], left: GRIDS[0].left, top: 2, padding: 0, textStyle: titleStyle },
        { text: titles[1], left: GRIDS[1].left, top: 2, padding: 0, textStyle: titleStyle },
      ],
      grid: GRIDS.map((g) => ({
        left: g.left,
        top: GRID_TOP,
        width: g.width,
        height: GRID_H,
        show: true,
        borderColor: "#000",
        borderWidth: 1,
        backgroundColor: "transparent",
        containLabel: false,
      })),
      xAxis: [xAxisFor(0), xAxisFor(1)],
      yAxis: [yAxisFor(0), yAxisFor(1)],
      legend: [
        legendFor(
          [
            { name: leftNames[0], icon: barIcon(WIDTH_NAIVE) },
            { name: leftNames[1], icon: barIcon(WIDTH_THIN) },
          ],
          W - (GRIDS[0].left + GRIDS[0].width)
        ),
        legendFor(
          rightNames.map((n) => ({ name: n, icon: barIcon(WIDTH_THIN) })),
          W - (GRIDS[1].left + GRIDS[1].width)
        ),
      ],
      tooltip: { show: false },
      graphic: [
        {
          type: "text",
          left: 1,
          top: 955,
          silent: true,
          style: {
            text: caption,
            fontSize: 21,
            fontFamily: "'Liberation Mono', 'DejaVu Sans Mono', monospace",
            fill: "#000",
          },
        },
      ],
      series: [
        lineSeries(leftNames[0], naive, COLORS.naive, WIDTH_NAIVE, 0),
        lineSeries(leftNames[1], gdpWeighted, COLORS.gdp, WIDTH_THIN, 0),
        lineSeries(rightNames[0], carry, COLORS.carry, WIDTH_THIN, 1),
        lineSeries(rightNames[1], value, COLORS.value, WIDTH_THIN, 1),
        lineSeries(rightNames[2], momentum, COLORS.momentum, WIDTH_THIN, 1),
      ],
    };
    chart.setOption(option);
    return () => {
      chart.dispose();
    };
  }, []);

  return <div ref={ref} style={{ width: W, height: H, background: "#fff" }} />;
}
